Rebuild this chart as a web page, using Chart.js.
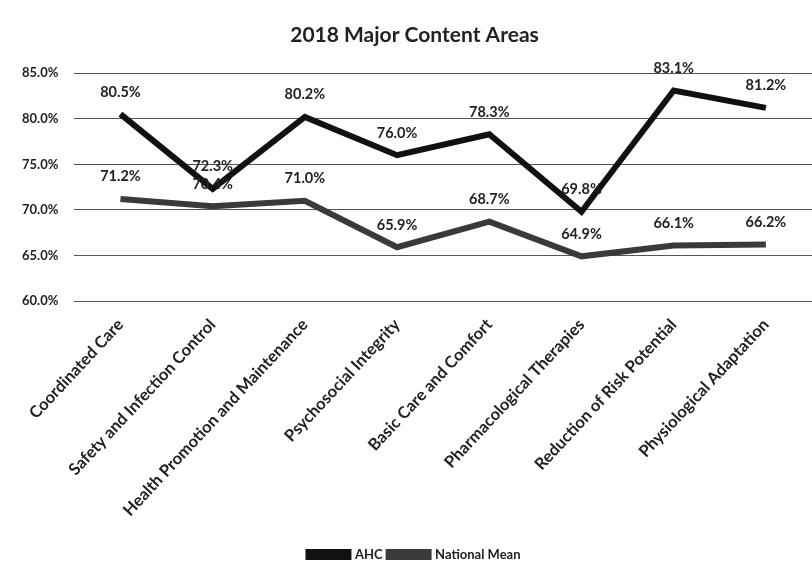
<!DOCTYPE html>
<html>
<head>
<meta charset="utf-8">
<script src="https://cdn.jsdelivr.net/npm/chart.js@4/dist/chart.umd.min.js"></script>
<style>
  html, body { margin: 0; padding: 0; background: #fff; }
  #wrap { width: 812px; height: 577px; }
</style>
</head>
<body>
<div id="wrap"><canvas id="chart"></canvas></div>
<script>
const categories = ['Coordinated Care', 'Safety and Infection Control', 'Health Promotion and Maintenance',
  'Psychosocial Integrity', 'Basic Care and Comfort', 'Pharmacological Therapies',
  'Reduction of Risk Potential', 'Physiological Adaptation'];
const ahc = [80.5, 72.3, 80.2, 76.0, 78.3, 69.8, 83.1, 81.2];
const nationalMean = [71.2, 70.4, 71.0, 65.9, 68.7, 64.9, 66.1, 66.2];
const yTicks = [60, 65, 70, 75, 80, 85];

const fontFam = 'Lato, "Open Sans", sans-serif';

// draws the value labels above each point
const valueLabels = {
  id: 'valueLabels',
  afterDatasetsDraw(chart) {
    const ctx = chart.ctx;
    ctx.save();
    ctx.font = 'bold 14.5px ' + fontFam;
    ctx.fillStyle = '#222';
    ctx.textAlign = 'center';
    ctx.textBaseline = 'bottom';
    chart.data.datasets.forEach((ds, i) => {
      const meta = chart.getDatasetMeta(i);
      meta.data.forEach((pt, j) => {
        ctx.fillText(ds.data[j].toFixed(1) + '%', pt.x, pt.y - 15);
      });
    });
    ctx.restore();
  }
};

new Chart(document.getElementById('chart'), {
  type: 'line',
  data: {
    labels: categories,
    datasets: [{
      label: 'AHC',
      data: ahc,
      borderColor: '#111',
      backgroundColor: '#111',
      borderWidth: 6,
      pointRadius: 0,
      tension: 0
    }, {
      label: 'National Mean',
      data: nationalMean,
      borderColor: '#3a3a3a',
      backgroundColor: '#3a3a3a',
      borderWidth: 6,
      pointRadius: 0,
      tension: 0
    }]
  },
  options: {
    responsive: true,
    maintainAspectRatio: false,
    animation: false,
    layout: { padding: { left: 6, right: -11, top: 0, bottom: 6 } },
    plugins: {
      title: {
        display: true,
        text: '2018 Major Content Areas',
        color: '#222',
        font: { family: fontFam, size: 21, weight: 'bold' },
        padding: { top: 23, bottom: 25 }
      },
      legend: {
        position: 'bottom',
        labels: {
          color: '#222',
          font: { family: fontFam, size: 13, weight: 'bold' },
          boxWidth: 40,
          boxHeight: 5,
          padding: 6
        }
      },
      tooltip: { enabled: false }
    },
    scales: {
      x: {
        offset: true,
        grid: { display: false },
        border: { display: false },
        afterFit(axis) { axis.height = 241; },
        ticks: {
          color: '#222',
          padding: 6,
          font: { family: fontFam, size: 16.5, weight: 'bold' },
          maxRotation: 47,
          minRotation: 47,
          autoSkip: false
        }
      },
      y: {
        min: 60,
        max: 85,
        afterBuildTicks(axis) { axis.ticks = yTicks.map(v => ({ value: v })); },
        grid: { color: '#555', lineWidth: 1, drawTicks: false },
        border: { display: false },
        ticks: {
          color: '#222',
          padding: 16,
          font: { family: fontFam, size: 13, weight: 'bold' },
          callback: v => v.toFixed(1) + '%'
        }
      }
    }
  },
  plugins: [valueLabels]
});
</script>
</body>
</html>
